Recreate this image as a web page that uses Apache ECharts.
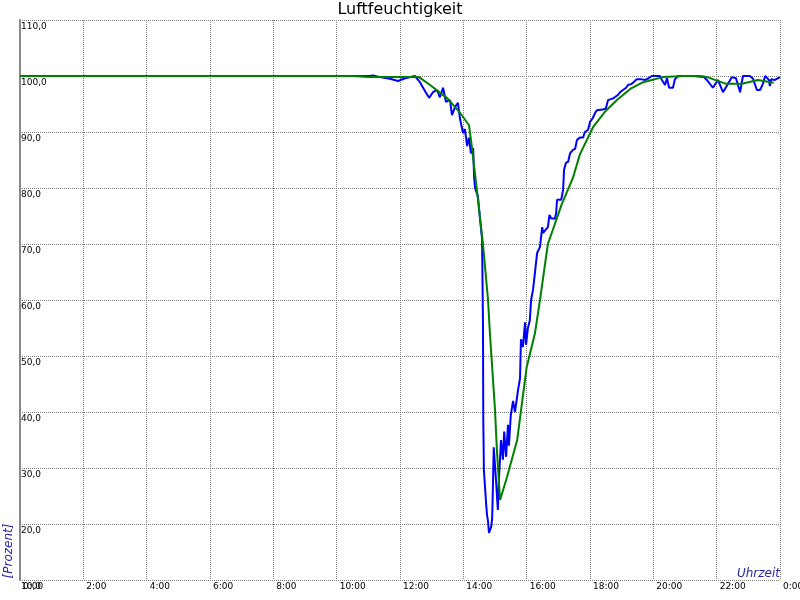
<!DOCTYPE html>
<html>
<head>
<meta charset="utf-8">
<script src="https://cdn.jsdelivr.net/npm/echarts@6/dist/echarts.min.js"></script>
<style>html,body{margin:0;padding:0;background:#fff}#c{width:800px;height:600px}</style>
</head>
<body>
<div id="c"></div>
<script>
// Time of day in decimal hours
var blueHours = [0, 11.05, 11.15, 11.37, 11.68, 11.94, 12.16, 12.47, 12.63, 12.82, 12.92, 13.04, 13.17, 13.26, 13.36, 13.45, 13.58, 13.64, 13.74, 13.83, 13.89, 13.99, 14.05, 14.12, 14.18, 14.24, 14.31, 14.34, 14.37, 14.46, 14.53, 14.59, 14.6, 14.62, 14.63, 14.65, 14.68, 14.72, 14.75, 14.78, 14.81, 14.88, 14.91, 14.93, 14.96, 15.03, 15.09, 15.12, 15.19, 15.25, 15.29, 15.35, 15.41, 15.44, 15.5, 15.57, 15.63, 15.73, 15.79, 15.82, 15.88, 15.95, 15.98, 16.04, 16.1, 16.14, 16.2, 16.26, 16.33, 16.42, 16.49, 16.52, 16.67, 16.72, 16.77, 16.89, 16.93, 16.96, 17.09, 17.15, 17.18, 17.24, 17.31, 17.37, 17.46, 17.53, 17.59, 17.68, 17.78, 17.84, 17.94, 18.0, 18.09, 18.16, 18.22, 18.4, 18.5, 18.57, 18.73, 18.88, 18.95, 19.04, 19.14, 19.2, 19.32, 19.48, 19.64, 19.74, 19.85, 19.95, 20.21, 20.27, 20.37, 20.43, 20.5, 20.62, 20.68, 20.78, 21.25, 21.6, 21.69, 21.88, 22.04, 22.2, 22.36, 22.48, 22.61, 22.74, 22.83, 23.05, 23.15, 23.27, 23.37, 23.46, 23.53, 23.59, 23.65, 23.68, 23.72, 23.84, 23.9, 24.0];
var blueValues = [100, 100, 100.1, 99.8, 99.5, 99.1, 99.6, 100, 98.9, 97, 96.1, 97.1, 97.5, 96.2, 97.9, 95.4, 95.7, 93, 94.5, 95.2, 92.5, 89.8, 90.5, 87.5, 89, 86.2, 87.1, 82, 80, 78.5, 74.3, 71, 66.6, 56, 38.6, 29.6, 27, 23.6, 21.5, 20.5, 18.4, 19.5, 21, 25.5, 33.7, 28, 22.5, 27.5, 35, 31.5, 36.5, 32, 37.7, 34, 39.5, 42, 40, 44, 46, 53, 51.6, 56, 52, 55, 56.4, 60, 61.8, 64.8, 68.4, 69.5, 73, 72, 73, 75.2, 74.6, 74.5, 75.5, 77.9, 77.9, 79.6, 83.2, 84.5, 84.7, 86.2, 86.8, 87, 88.6, 89, 89, 90, 90.4, 91.8, 92.5, 93.4, 93.9, 94, 94.2, 95.7, 96, 96.6, 97.1, 97.5, 97.9, 98.4, 98.6, 99.4, 99.4, 99.3, 99.6, 100, 100, 99.3, 98.4, 99.6, 97.9, 97.9, 99.4, 100, 100, 99.8, 99.3, 97.9, 99.3, 97.1, 98.6, 99.8, 99.6, 97.1, 100, 100, 99.5, 97.5, 97.5, 98.6, 100, 100, 99.3, 98.2, 99.4, 99.3, 99.3, 99.8];
var greenHours = [0, 10.5, 11.0, 12.6, 12.95, 13.5, 13.9, 14.18, 14.27, 14.4, 14.62, 14.78, 14.84, 15.0, 15.06, 15.16, 15.38, 15.7, 16.0, 16.26, 16.42, 16.67, 17.1, 17.46, 17.68, 18.1, 18.5, 18.85, 19.3, 19.68, 20.3, 21.0, 21.5, 21.7, 22.3, 22.8, 23.3, 23.8];
var greenValues = [100, 100, 99.8, 99.8, 98.4, 96, 93.4, 91.2, 87.3, 81, 70, 60, 54, 40.4, 33.2, 24.3, 28.4, 35, 48, 54, 60, 70, 77, 81.8, 86, 90.9, 93.8, 95.7, 97.8, 98.9, 99.8, 100, 100, 99.8, 98.6, 98.6, 99.3, 98.8];
var xTickHours = [0, 2, 4, 6, 8, 10, 12, 14, 16, 18, 20, 22, 24];
var yTicks = [10, 20, 30, 40, 50, 60, 70, 80, 90, 100, 110];
var titleText = 'Luftfeuchtigkeit';
var xName = 'Uhrzeit';
var yName = '[Prozent]';

function zip(a, b) { return a.map(function (v, i) { return [v, b[i]]; }); }

var FONT = 'DejaVu Sans';
var chart = echarts.init(document.getElementById('c'), null, { renderer: 'canvas' });
var gridLine = { show: true, lineStyle: { color: '#808080', width: 1, type: [1, 1] } };
chart.setOption({
  animation: false,
  backgroundColor: '#ffffff',
  title: {
    text: titleText, left: 'center', top: -3,
    textStyle: { fontFamily: FONT, fontSize: 16, fontWeight: 'normal', color: '#000' }
  },
  grid: { left: 20, right: 20, top: 20, bottom: 20, containLabel: false, outerBoundsMode: 'none' },
  xAxis: {
    type: 'value', min: xTickHours[0], max: xTickHours[xTickHours.length - 1], interval: 2,
    axisLine: { show: false }, axisTick: { show: false },
    splitLine: gridLine,
    axisLabel: {
      showMinLabel: true, showMaxLabel: true, margin: 2, align: 'left', padding: [0, 0, 0, 3],
      fontFamily: FONT, fontSize: 9, color: '#000',
      formatter: function (v) { return (v % 24) + ':00'; }
    }
  },
  yAxis: {
    type: 'value', min: yTicks[0], max: yTicks[yTicks.length - 1], interval: 10,
    axisLine: { show: true, lineStyle: { color: '#888888', width: 2 } },
    axisTick: { show: false },
    splitLine: gridLine,
    axisLabel: {
      inside: true, margin: 1, verticalAlign: 'top', align: 'left', padding: [2, 0, 0, 0],
      showMinLabel: true, showMaxLabel: true,
      fontFamily: FONT, fontSize: 9, color: '#000',
      formatter: function (v) { return v.toFixed(1).replace('.', ','); }
    }
  },
  graphic: [
    { type: 'text', right: 20, bottom: 20, style: { text: xName, font: 'italic 12px "DejaVu Sans"', fill: '#2626a0' } },
    { type: 'text', x: 3, y: 551, rotation: Math.PI / 2,
      style: { text: yName, font: 'italic 12px "DejaVu Sans"', fill: '#2626a0', align: 'center', verticalAlign: 'top' } }
  ],
  series: [
    { type: 'line', data: zip(blueHours, blueValues), showSymbol: false, symbol: 'none',
      lineStyle: { color: '#0000ff', width: 2 }, z: 2 },
    { type: 'line', data: zip(greenHours, greenValues), showSymbol: false, symbol: 'none',
      lineStyle: { color: '#008000', width: 2 }, z: 3 }
  ]
});
</script>
</body>
</html>
